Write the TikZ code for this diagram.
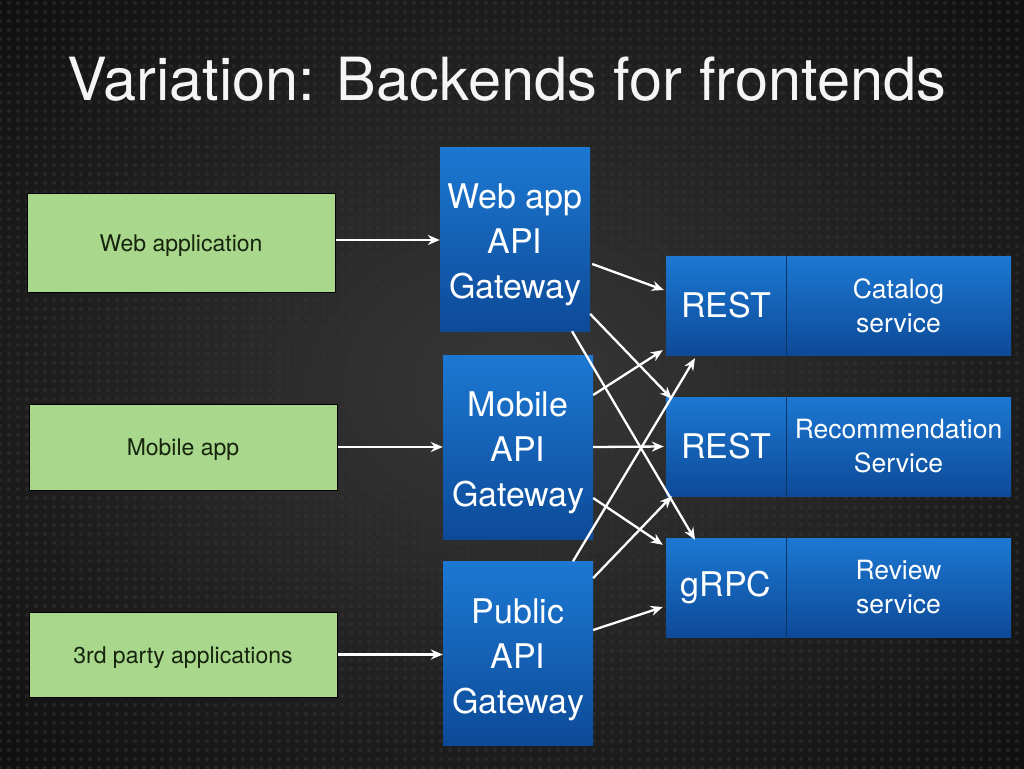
\documentclass[tikz,border=0pt]{standalone}
\usepackage{fontspec}
\setmainfont{TeX Gyre Heros}
\usetikzlibrary{arrows.meta,patterns.meta}
\definecolor{bgdark}{HTML}{101010}
\definecolor{bgmid}{HTML}{383838}
\definecolor{greenbox}{HTML}{A9D78C}
\definecolor{greentext}{HTML}{16240E}
\definecolor{bluetop}{HTML}{1C78D2}
\definecolor{bluebot}{HTML}{0D4A98}
\definecolor{bluediv}{HTML}{0A3566}
\begin{document}
\begin{tikzpicture}[x=1pt,y=-1pt,
  clientbox/.style={draw=black,line width=1pt,fill=greenbox,minimum width=308pt,inner sep=0pt},
  clientlabel/.style={text=greentext,font=\fontsize{23}{26}\selectfont,inner sep=0pt,yshift=-3pt},
  gatebox/.style={top color=bluetop,bottom color=bluebot,minimum width=150pt,minimum height=184pt,inner sep=0pt},
  gatelabel/.style={text=white,align=center,font=\fontsize{34}{45}\selectfont,inner sep=0pt,yshift=-6pt},
  protobox/.style={top color=bluetop,bottom color=bluebot,minimum width=120pt,minimum height=99pt,text=white,font=\fontsize{34}{40}\selectfont,inner sep=0pt},
  svcbox/.style={top color=bluetop,bottom color=bluebot,minimum width=225pt,minimum height=99pt,text=white,align=center,font=\fontsize{26.5}{34}\selectfont,inner sep=0pt},
  flow/.style={draw=white,line width=2.3pt,-{Stealth[length=12pt,width=10pt]}}]
\useasboundingbox (0,0) rectangle (1024,768);
\fill[bgdark] (0,0) rectangle (1024,768);
\shade[inner color=bgmid,outer color=bgdark] (-200,-150) rectangle (1224,918);
\fill[pattern={Dots[distance=9pt,radius=2.2pt]},pattern color=black!80,opacity=0.5] (0,0) rectangle (1024,768);
\node[text=white!96!black,font=\fontsize{59.5}{66}\selectfont,anchor=base west,inner sep=0pt] (title) at (67,100) {Variation: Backends for frontends};
% clients
\node[clientbox,minimum height=99pt,label={[clientlabel]center:Web application}] (g1) at (181,242.5) {};
\node[clientbox,minimum height=86pt,label={[clientlabel]center:Mobile app}] (g2) at (183,447) {};
\node[clientbox,minimum height=85pt,label={[clientlabel]center:3rd party applications}] (g3) at (183,654.5) {};
% gateways
\node[gatebox,label={[gatelabel]center:Web app\\API\\Gateway}] (a1) at (515,239) {};
\node[gatebox,label={[gatelabel]center:Mobile\\API\\Gateway}] (a2) at (518,447) {};
\node[gatebox,label={[gatelabel]center:Public\\API\\Gateway}] (a3) at (518,653.5) {};
% services
\node[protobox] (p1) at (726,305.5) {REST};
\node[svcbox] (s1) at (898.5,305.5) {Catalog\\service};
\node[protobox] (p2) at (726,446.5) {REST};
\node[svcbox] (s2) at (898.5,446.5) {Recommendation\\Service};
\node[protobox] (p3) at (726,587.5) {gRPC};
\node[svcbox] (s3) at (898.5,587.5) {Review\\service};
\foreach \i in {1,2,3}{\draw[bluediv,line width=1pt] (p\i.north east) -- (p\i.south east);}
% client arrows
\draw[flow] ([yshift=2.5pt]g1.east) -- ([yshift=2.5pt]g1.east -| a1.west);
\draw[flow] (g2.east) -- (g2.east -| a2.west);
\draw[flow] (g3.east) -- (g3.east -| a3.west);
% web gateway
\draw[flow] ([xshift=2pt,yshift=-25pt]a1.east) -- ([xshift=-2pt,yshift=15.5pt]p1.west);
\draw[flow] ([yshift=-75pt]a1.east) -- ([xshift=6pt,yshift=-2pt]p2.north west);
\draw[flow] ([xshift=57pt]a1.south) -- ([xshift=-31pt,yshift=-2pt]p3.north);
% mobile gateway
\draw[flow] ([yshift=52pt]a2.east) -- ([xshift=-3pt,yshift=5pt]p1.south west);
\draw[flow] (a2.east) -- ([xshift=-2pt]p2.west);
\draw[flow] ([yshift=-51pt]a2.east) -- ([xshift=-3pt,yshift=-7pt]p3.north west);
% public gateway
\draw[flow] ([xshift=55pt]a3.north) -- ([xshift=-31pt,yshift=-3pt]p1.south);
\draw[flow] ([yshift=75.5pt]a3.east) -- ([xshift=6pt]p2.south west);
\draw[flow] ([yshift=23.5pt]a3.east) -- ([xshift=-3pt,yshift=-19.5pt]p3.west);
\end{tikzpicture}
\end{document}
